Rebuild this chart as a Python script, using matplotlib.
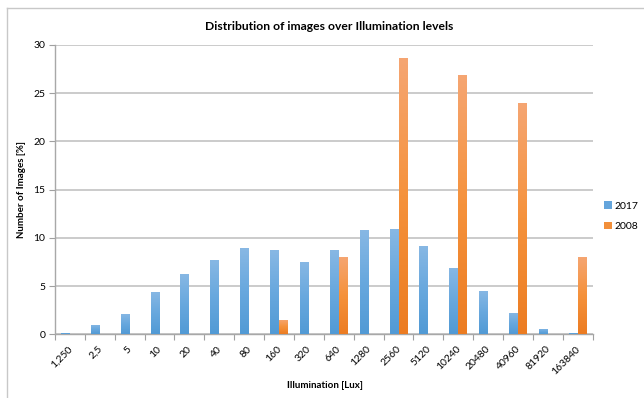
import numpy as np
import matplotlib.pyplot as plt
from matplotlib.colors import LinearSegmentedColormap
from matplotlib.lines import Line2D
from matplotlib.patches import Patch

plt.rcParams['font.family'] = ['Lato', 'DejaVu Sans']

lux = ["1,250", "2,5", "5", "10", "20", "40", "80", "160", "320", "640",
       "1280", "2560", "5120", "10240", "20480", "40960", "81920", "163840"]
share_2017 = [0.15, 1.0, 2.1, 4.4, 6.3, 7.7, 8.9, 8.7, 7.5, 8.75,
              10.8, 10.9, 9.2, 6.9, 4.5, 2.2, 0.55, 0.12]
share_2008 = [0, 0, 0, 0, 0, 0, 0, 1.5, 0, 8.0,
              0, 28.7, 0, 26.9, 0, 24.0, 0, 8.0]

blue_map = LinearSegmentedColormap.from_list("b", ["#519ad5", "#68a8de", "#88b8e4"])
orange_map = LinearSegmentedColormap.from_list("o", ["#ec7c22", "#f5923c", "#f5a673"])

fig = plt.figure(figsize=(6.44, 3.98), dpi=100)
ax = fig.add_axes([55 / 644, 1 - 334.3 / 398, (592.7 - 55) / 644, (334.3 - 45) / 398])

x = np.arange(len(lux))
w = 0.3
bars_a = ax.bar(x - w / 2, share_2017, w, facecolor="none", edgecolor="none", zorder=3)
bars_b = ax.bar(x + w / 2, share_2008, w, facecolor="none", edgecolor="none", zorder=3)

# vertical gradient fill, lighter at the top
grad = np.linspace(0, 1, 256).reshape(-1, 1)
for bars, cmap in ((bars_a, blue_map), (bars_b, orange_map)):
    for p in bars:
        h = p.get_height()
        if h <= 0:
            continue
        x0 = p.get_x()
        im = ax.imshow(grad, cmap=cmap, origin="lower", aspect="auto",
                       extent=(x0, x0 + p.get_width(), 0, h), zorder=3)
        im.set_clip_path(p)

ax.set_xlim(-0.5, len(lux) - 0.5)
ax.set_ylim(0, 30)
ax.set_yticks(range(0, 31, 5))
ax.set_xticks(x)
ax.set_xticklabels(lux, rotation=45, ha="right", va="center_baseline",
                   rotation_mode="anchor", fontsize=7.5)
ax.set_xticks(np.arange(-0.5, len(lux)), minor=True)
ax.tick_params(axis="x", which="major", length=0, pad=9)
ax.tick_params(axis="x", which="minor", length=4, color="#a0a0a0", width=0.8)
ax.tick_params(axis="y", length=4, color="#a0a0a0", width=0.8, labelsize=7.5, pad=3)

ax.grid(axis="y", color="#bdbdbd", linewidth=1.1, zorder=0)
ax.set_axisbelow(True)
for s in ("top", "right"):
    ax.spines[s].set_visible(False)
for s in ("left", "bottom"):
    ax.spines[s].set_color("#a8a8a8")
    ax.spines[s].set_linewidth(1.0)

ax.set_ylabel("Number of Images [%]", fontsize=7, fontweight="bold", labelpad=5)
fig.text(325 / 644, 1 - 385 / 398, "Illumination [Lux]", ha="center", va="center",
         fontsize=7, fontweight="bold")
fig.text(329 / 644, 1 - 26.5 / 398, "Distribution of images over Illumination levels",
         ha="center", va="center", fontsize=8.7, fontweight="bold")

handles = [Patch(facecolor="#64a5dc", label="2017"),
           Patch(facecolor="#f28f3a", label="2008")]
fig.legend(handles=handles, loc="upper left", bbox_to_anchor=(598 / 644, 1 - 195 / 398),
           frameon=False, fontsize=7.5, handlelength=0.7, handleheight=0.7,
           handletextpad=0.25, labelspacing=1.1, borderaxespad=0.2)

# outer chart frame (left and top edges)
fig.add_artist(Line2D([7 / 644, 7 / 644], [0, 1 - 8 / 398], transform=fig.transFigure,
                      color="#c8c8c8", linewidth=1.0))
fig.add_artist(Line2D([7 / 644, 1], [1 - 8 / 398, 1 - 8 / 398], transform=fig.transFigure,
                      color="#c8c8c8", linewidth=1.0))

fig.savefig("out.png", dpi=100)
